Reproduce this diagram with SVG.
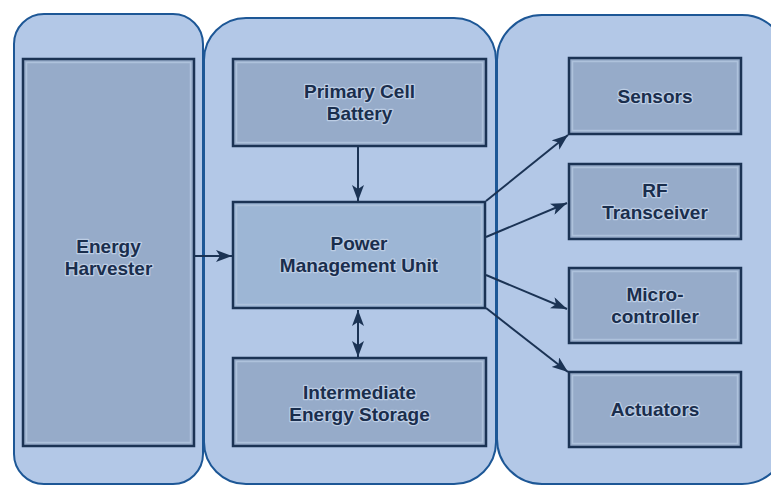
<svg xmlns="http://www.w3.org/2000/svg" width="771" height="486" viewBox="0 0 771 486">
<style>
.panel{fill:#b3c8e7;stroke:#1d5796;stroke-width:2}
.box{fill:#96abc9;stroke:#1b3354;stroke-width:2.5}
.pmu{fill:#9db6d5;stroke:#1b3354;stroke-width:2.5}
.hl{fill:none;stroke:#aec2dc;stroke-width:1.5}
.lbl{font-family:"Liberation Sans",Arial,sans-serif;font-weight:bold;font-size:19px;fill:#1a2e4d;text-anchor:middle;stroke:#bccde4;stroke-width:2.5;paint-order:stroke;stroke-linejoin:round}
.con{stroke:#1b3354;stroke-width:2;fill:none}
</style>
<defs>
<marker id="ah" viewBox="0 0 16 12" refX="16" refY="6" markerWidth="16" markerHeight="12" markerUnits="userSpaceOnUse" orient="auto-start-reverse">
<path d="M0,0 L16,6 L0,12 L4,6 Z" fill="#1b3354"/>
</marker>
</defs>
<rect width="771" height="486" fill="#ffffff"/>
<g id="panel-left"><rect class="panel" x="14" y="14" width="189" height="470" rx="30"/></g>
<g id="panel-middle"><rect class="panel" x="204" y="18" width="292" height="466" rx="42"/></g>
<g id="panel-right"><rect class="panel" x="497" y="15" width="290" height="469" rx="45"/></g>

<g id="energy-harvester">
<rect class="box" x="23" y="59" width="171" height="387"/>
<rect class="hl" x="26.5" y="62.5" width="164" height="380"/>
<text class="lbl" x="108.5" y="253">Energy</text>
<text class="lbl" x="108.5" y="275">Harvester</text>
</g>
<g id="primary-cell-battery">
<rect class="box" x="233" y="59" width="253" height="87"/>
<rect class="hl" x="236.5" y="62.5" width="246" height="80"/>
<text class="lbl" x="359.5" y="98">Primary Cell</text>
<text class="lbl" x="359.5" y="120">Battery</text>
</g>
<g id="power-management-unit">
<rect class="pmu" x="233" y="202" width="252" height="106"/>
<rect class="hl" x="236.5" y="205.5" width="245" height="99"/>
<text class="lbl" x="359" y="250">Power</text>
<text class="lbl" x="359" y="272">Management Unit</text>
</g>
<g id="intermediate-energy-storage">
<rect class="box" x="233" y="358" width="253" height="88"/>
<rect class="hl" x="236.5" y="361.5" width="246" height="81"/>
<text class="lbl" x="359.5" y="399">Intermediate</text>
<text class="lbl" x="359.5" y="421">Energy Storage</text>
</g>
<g id="sensors">
<rect class="box" x="569" y="58" width="172" height="76"/>
<rect class="hl" x="572.5" y="61.5" width="165" height="69"/>
<text class="lbl" x="655" y="103">Sensors</text>
</g>
<g id="rf-transceiver">
<rect class="box" x="569" y="164" width="172" height="75"/>
<rect class="hl" x="572.5" y="167.5" width="165" height="68"/>
<text class="lbl" x="655" y="197">RF</text>
<text class="lbl" x="655" y="219">Transceiver</text>
</g>
<g id="microcontroller">
<rect class="box" x="569" y="268" width="172" height="75"/>
<rect class="hl" x="572.5" y="271.5" width="165" height="68"/>
<text class="lbl" x="655" y="301">Micro-</text>
<text class="lbl" x="655" y="323">controller</text>
</g>
<g id="actuators">
<rect class="box" x="569" y="372" width="172" height="75"/>
<rect class="hl" x="572.5" y="375.5" width="165" height="68"/>
<text class="lbl" x="655" y="416">Actuators</text>
</g>

<g id="connectors">
<line class="con" x1="194" y1="256" x2="232" y2="256" marker-end="url(#ah)"/>
<line class="con" x1="358" y1="147" x2="358" y2="201" marker-end="url(#ah)"/>
<line class="con" x1="358" y1="310" x2="358" y2="357" marker-start="url(#ah)" marker-end="url(#ah)"/>
<line class="con" x1="486" y1="201" x2="568" y2="135" marker-end="url(#ah)"/>
<line class="con" x1="486" y1="237" x2="567" y2="203" marker-end="url(#ah)"/>
<line class="con" x1="486" y1="275" x2="567" y2="309" marker-end="url(#ah)"/>
<line class="con" x1="486" y1="308" x2="568" y2="372" marker-end="url(#ah)"/>
</g>
</svg>
